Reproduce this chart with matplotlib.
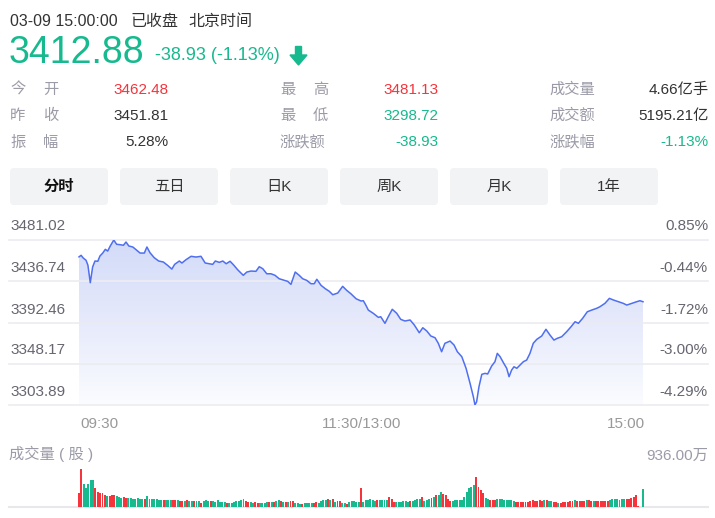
import numpy as np
import matplotlib
matplotlib.use("Agg")
import matplotlib.pyplot as plt
import matplotlib.transforms as mtrans
from matplotlib.patches import FancyBboxPatch, Polygon
from matplotlib.colors import LinearSegmentedColormap

plt.rcParams["font.family"] = ["Liberation Sans", "Noto Sans CJK SC", "DejaVu Sans"]

# ---- 行情数据 ----
PREV_CLOSE = 3451.81
LOW, HIGH = 3298.72, 3481.13
VOL_MAX = 936.0  # 万

minutes = [0, 0.9, 1.8, 3.0, 3.8, 4.8, 5.8, 6.8, 8.0, 8.9,
           10.1, 11.2, 12.2, 13.3, 14.8, 16.0, 17.6, 18.9, 20.0, 21.2,
           22.9, 24.3, 26.0, 27.8, 28.9, 30.2, 32.0, 33.9, 35.9, 37.7,
           39.5, 40.7, 42.7, 43.8, 45.5, 47.7, 49.8, 51.9, 53.7, 55.5,
           56.9, 58.0, 59.7, 61.2, 62.6, 64.3, 65.7, 67.5, 69.9, 71.4,
           73.2, 75.3, 76.7, 78.2, 79.9, 81.7, 83.4, 85.2, 87.4, 88.8,
           90.2, 92.0, 93.7, 95.2, 96.9, 98.7, 100.1, 101.2, 103.0, 104.8,
           106.5, 108.0, 110.1, 112.2, 113.9, 115.7, 117.9, 120.0, 121.0, 122.1,
           123.1, 125.2, 127.4, 128.4, 130.2, 131.6, 133.3, 135.2, 136.9, 138.7,
           140.9, 142.7, 144.8, 146.3, 148.0, 149.7, 151.5, 152.9, 154.3, 155.7,
           157.9, 159.6, 161.0, 162.9, 164.7, 166.4, 167.8, 168.5, 169.2, 170.2,
           171.4, 172.8, 173.9, 175.6, 177.0, 178.0, 179.2, 180.6, 182.0, 183.0,
           184.1, 185.1, 186.3, 187.7, 189.1, 190.5, 191.9, 193.3, 194.8, 196.9,
           198.7, 200.4, 202.1, 203.5, 205.4, 207.5, 209.4, 211.1, 212.5, 214.3,
           216.3, 218.2, 220.3, 221.7, 223.8, 225.7, 227.4, 229.5, 231.6, 233.1,
           235.2, 237.3, 238.7, 240]

prices = [3462.48, 3464.2, 3461.2, 3458.7, 3453.2, 3433.9, 3451.3, 3457.9, 3457.6, 3463.4,
          3466.7, 3470.8, 3468.9, 3474.5, 3481.13, 3476.4, 3475.9, 3475.3, 3478.9, 3474.5,
          3473.4, 3470.4, 3466.7, 3466.7, 3473.4, 3467.1, 3461.6, 3457.9, 3456.8, 3453.1,
          3449.0, 3454.2, 3457.9, 3455.7, 3459.3, 3463.1, 3462.3, 3463.1, 3455.7, 3454.9,
          3454.2, 3457.9, 3456.4, 3457.9, 3454.9, 3457.6, 3453.8, 3448.3, 3442.1, 3445.7,
          3446.8, 3446.5, 3451.6, 3449.4, 3443.8, 3443.8, 3442.1, 3438.3, 3436.5, 3435.4,
          3432.1, 3445.7, 3442.1, 3438.3, 3436.5, 3432.8, 3432.8, 3437.7, 3431.0, 3427.3,
          3424.4, 3420.6, 3422.5, 3429.9, 3425.5, 3421.7, 3416.2, 3413.7, 3414.0, 3408.9,
          3403.7, 3400.1, 3395.6, 3396.3, 3389.0, 3396.3, 3404.5, 3400.1, 3393.4, 3391.6,
          3392.7, 3387.1, 3378.6, 3384.1, 3380.5, 3375.0, 3373.1, 3366.9, 3357.6, 3366.9,
          3369.4, 3365.0, 3357.6, 3352.1, 3339.3, 3322.7, 3307.9, 3298.72, 3302.3, 3318.9,
          3332.6, 3333.7, 3333.0, 3341.8, 3346.6, 3355.8, 3352.1, 3345.5, 3339.3, 3330.0,
          3337.4, 3341.0, 3339.3, 3342.9, 3346.6, 3348.4, 3355.8, 3366.9, 3371.3, 3375.0,
          3382.4, 3376.1, 3370.5, 3372.4, 3374.2, 3379.7, 3385.3, 3390.8, 3389.0, 3394.5,
          3401.8, 3403.7, 3405.6, 3407.4, 3411.1, 3416.6, 3414.8, 3412.9, 3411.1, 3409.2,
          3411.1, 3412.9, 3414.0, 3412.88]

# 每分钟成交量 (万股), 0..240
volumes = [345, 936, 570, 470, 570, 670, 670, 470, 370, 345,
           345, 300, 275, 275, 300, 300, 275, 250, 225, 250,
           225, 225, 225, 200, 200, 225, 200, 200, 200, 275,
           200, 200, 200, 200, 175, 175, 175, 175, 175, 175,
           175, 175, 175, 150, 150, 150, 175, 150, 150, 150,
           150, 150, 100, 150, 175, 150, 150, 150, 125, 175,
           125, 125, 125, 100, 100, 100, 125, 150, 150, 175,
           200, 150, 125, 125, 100, 125, 100, 100, 100, 100,
           125, 125, 125, 125, 150, 175, 150, 125, 125, 125,
           150, 150, 100, 100, 75, 75, 100, 100, 100, 100,
           100, 125, 100, 150, 175, 175, 200, 175, 200, 125,
           150, 150, 100, 100, 75, 125, 150, 150, 125, 125,
           470, 125,
           175, 175, 200, 175, 150, 175, 175, 175, 175, 175,
           250, 200, 125, 125, 125, 125, 150, 150, 125, 150,
           150, 175, 200, 200, 250, 150, 175, 200, 225, 250,
           300, 300, 370, 320, 300, 200, 150, 150, 175, 175,
           175, 175, 250, 370, 470, 495, 545, 745, 495, 420,
           345, 225, 200, 175, 175, 175, 200, 200, 200, 175,
           175, 175,
           175, 150, 125, 125, 125, 125, 125, 125, 150, 175,
           150, 150, 175, 150, 175, 175, 150, 150, 125, 125,
           100, 100, 125, 125, 125, 150, 150, 175, 150, 150,
           150, 150, 175, 175, 150, 150, 150, 150, 150, 150,
           150, 150, 175, 200, 200, 200, 175, 200, 200, 200,
           200, 225, 250, 300, 25, 0, 445]

# r = 上涨(红), g = 下跌(绿)
vol_dirs = ("rrggggg" "rrrrr" "g" "rrr" "ggg" "rr" "ggggggg" "r" "ggggggg" "r"
            "ggg" "rr" "g" "rr" "g" "r" "gg" "r" "gg" "r" "ggg" "r" "ggg"
            "gggrgggggg" "grrggrrggg" "grgrggrgrg" "rrgggrgggg" "rrggggrgrg" "rrggrggggg" "rg"
            "gggggrgggg" "rrrggggggr" "ggggrgggrg" "rggrrrrggg" "gggggggrrr" "rggrrrgggg" "gg"
            "ggrrrrrrrr" "rrrrgrggrr" "grrrrrrgrr" "rrgrrgrrrr" "rrgggggggr" "rrrrrrg")

left_labels = ["3481.02", "3436.74", "3392.46", "3348.17", "3303.89"]
right_labels = ["0.85%", "-0.44%", "-1.72%", "-3.00%", "-4.29%"]
tabs = ["分时", "五日", "日K", "周K", "月K", "1年"]

info_rows = [
    [("今", "开"), "3462.48", "red", ("最", "高"), "3481.13", "red", "成交量", "4.66亿手", "dark"],
    [("昨", "收"), "3451.81", "dark", ("最", "低"), "3298.72", "green", "成交额", "5195.21亿", "dark"],
    [("振", "幅"), "5.28%", "dark", "涨跌额", "-38.93", "green", "涨跌幅", "-1.13%", "green"],
]

RED = "#f5343c"
GREEN = "#17b98e"
DARK = "#333333"
LABEL = "#9b9ba8"
LINE = "#4f6ff0"
COLS = {"red": RED, "green": GREEN, "dark": DARK}

W, H = 715, 518
fig = plt.figure(figsize=(W / 100, H / 100), dpi=100)
fig.patch.set_facecolor("white")
PX = mtrans.Affine2D().scale(1 / W, -1 / H).translate(0, 1) + fig.transFigure


def rect(x0, y0, x1, y1):
    return [x0 / W, 1 - y1 / H, (x1 - x0) / W, (y1 - y0) / H]


def t(x, y, s, **kw):
    kw.setdefault("va", "baseline")
    return fig.text(x, y, s, transform=PX, **kw)


# ---- 头部 ----
t(10, 26, "03-09 15:00:00", size=11.5, color=DARK)
t(130, 26, "已收盘", size=11.5, color=DARK)
t(188, 26, "北京时间", size=11.5, color=DARK)
t(9, 63, "3412.88", size=27, color=GREEN)
t(155, 60.5, "-38.93 (-1.13%)", size=13, color=GREEN)
fig.patches.append(Polygon([(295.5, 46.5), (301.5, 46.5), (301.5, 55), (307, 55),
                            (298.5, 65), (290, 55), (295.5, 55)],
                           closed=True, transform=PX, color=GREEN, figure=fig))

row_y = [94, 120, 146.5]
for y, row in zip(row_y, info_rows):
    for i, (lx, vx) in enumerate([(10, 168.5), (280, 438.5), (549, 708.5)]):
        lab, val, col = row[3 * i], row[3 * i + 1], row[3 * i + 2]
        if isinstance(lab, tuple):
            t(lx, y, lab[0], size=11, color=LABEL, ha="left")
            t(lx + 48, y, lab[1], size=11, color=LABEL, ha="right")
        else:
            t(lx, y, lab, size=11, color=LABEL, ha="left")
        t(vx, y, val, size=11, color=COLS[col], ha="right")

# ---- 切换按钮 ----
for i, name in enumerate(tabs):
    x0 = 10 + 110 * i
    fig.patches.append(FancyBboxPatch((x0, 168), 98, 37, boxstyle="round,pad=0,rounding_size=4",
                                      transform=PX, facecolor="#f2f3f5", edgecolor="none", figure=fig))
    t(x0 + 49, 187, name, size=11, ha="center", va="center",
      color="#111111" if i == 0 else DARK, weight="bold" if i == 0 else "normal")

# ---- 分时走势 ----
XL = (-(79 - 9) / 2.35, 240 + (708 - 643) / 2.35)
ax = fig.add_axes(rect(9, 240, 708, 405))
ax.set_axis_off()
poly = ax.fill_between(minutes, prices, LOW, color="none", lw=0)
cmap = LinearSegmentedColormap.from_list("fill", ["#fbfcff", "#e6eafb", "#d3dbf8"])
img = ax.imshow(np.linspace(0, 1, 256).reshape(-1, 1), extent=(0, 240, LOW, HIGH),
                origin="lower", aspect="auto", cmap=cmap, zorder=1)
img.set_clip_path(poly.get_paths()[0], transform=ax.transData)
for v in np.linspace(LOW, HIGH, 5):
    ax.axhline(v, color="#ececf1", lw=1.2, zorder=2, clip_on=False)
ax.plot(minutes, prices, color=LINE, lw=1.1, zorder=3)
ax.set_xlim(*XL)
ax.set_ylim(LOW, HIGH)

grid_px = [240, 281, 323, 364, 405]
for gy, ll, rl in zip(grid_px, left_labels, right_labels):
    t(10, gy - 9.5, ll, size=11, color="#666670", ha="left")
    t(708, gy - 9.5, rl, size=11, color="#666670", ha="right")

t(80, 428, "09:30", size=11, color="#999999", ha="left")
t(362, 428, "11:30/13:00", size=11, color="#999999", ha="center")
t(645, 428, "15:00", size=11, color="#999999", ha="right")

# ---- 成交量 ----
t(9, 459, "成交量 ( 股 )", size=11, color=LABEL)
t(708, 460, "936.00万", size=11, color=LABEL, ha="right")
axv = fig.add_axes(rect(9, 469, 708, 507))
axv.set_axis_off()
bar_cols = [RED if c == "r" else GREEN for c in vol_dirs]
axv.bar(np.arange(len(volumes)), volumes, width=0.82, color=bar_cols, lw=0, zorder=2)
axv.axhline(0, color="#e8e8ec", lw=1.5, clip_on=False, zorder=1)
axv.set_xlim(*XL)
axv.set_ylim(0, VOL_MAX)

fig.savefig("out.png", dpi=100, facecolor="white")
